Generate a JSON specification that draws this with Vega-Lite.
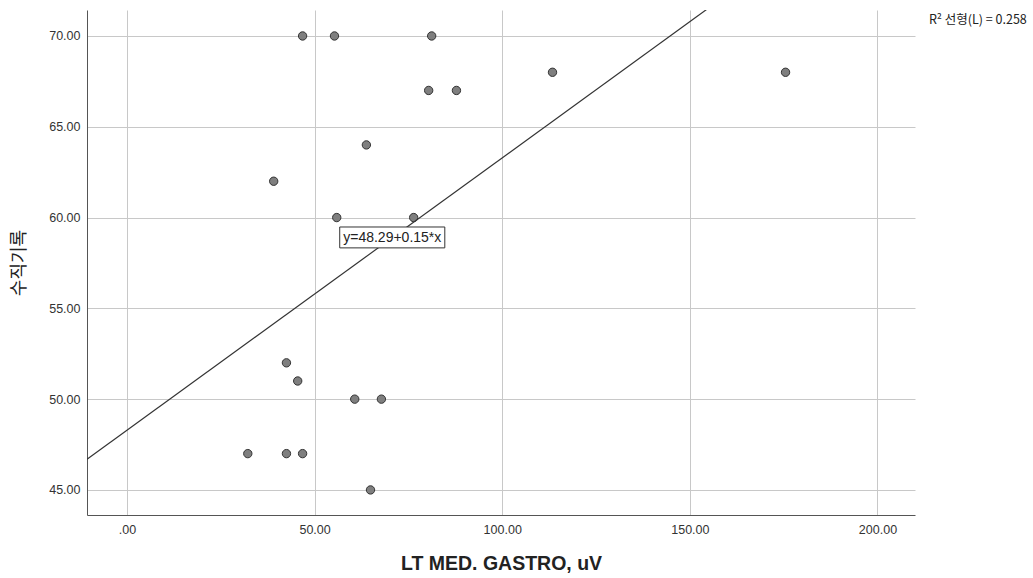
{
  "$schema": "https://vega.github.io/schema/vega-lite/v6.json",
  "width": 828,
  "height": 505,
  "autosize": {"type": "none"},
  "padding": {"left": 87, "top": 10, "right": 118, "bottom": 63},
  "background": "white",
  "config": {"view": {"stroke": null}, "font": "Liberation Sans"},
  "datasets": {
    "pts": [
      {"x": 46.8, "y": 70}, {"x": 55.3, "y": 70}, {"x": 81.2, "y": 70},
      {"x": 113.4, "y": 68}, {"x": 175.5, "y": 68},
      {"x": 80.4, "y": 67}, {"x": 87.8, "y": 67},
      {"x": 63.8, "y": 64}, {"x": 39.1, "y": 62},
      {"x": 55.9, "y": 60}, {"x": 76.4, "y": 60},
      {"x": 42.5, "y": 52}, {"x": 45.5, "y": 51},
      {"x": 60.7, "y": 50}, {"x": 67.8, "y": 50},
      {"x": 32.2, "y": 47}, {"x": 42.5, "y": 47}, {"x": 46.8, "y": 47},
      {"x": 64.9, "y": 45}
    ],
    "fit": [{"x": -10.65, "y": 46.69}, {"x": 210, "y": 79.79}],
    "box": [{"x": 56.7, "x2": 84.7, "y": 59.48, "y2": 58.33, "label": "y=48.29+0.15*x", "xm": 70.7, "ym": 58.9}],
    "r2": [{"x": 213.7, "y": 70.88, "label": "R² 선형(L) = 0.258"}]
  },
  "layer": [
    {
      "data": {"name": "pts"},
      "mark": {"type": "point", "filled": true, "fill": "#7f7f7f", "stroke": "#333333", "strokeWidth": 1, "size": 70, "opacity": 1},
      "encoding": {
        "x": {
          "field": "x", "type": "quantitative",
          "scale": {"domain": [-10.65, 210], "nice": false, "zero": false},
          "axis": {
            "values": [0, 50, 100, 150, 200],
            "labelExpr": "datum.value == 0 ? '.00' : format(datum.value, '.2f')",
            "grid": true, "gridColor": "#c8c8c8", "gridWidth": 1,
            "ticks": false, "domainColor": "#555555", "domainWidth": 1,
            "labelFontSize": 12.5, "labelColor": "#333333", "labelPadding": 8,
            "title": "LT MED. GASTRO, uV", "titleFontSize": 19.5, "titleFontWeight": "bold",
            "titleColor": "#222222", "titlePadding": 19
          }
        },
        "y": {
          "field": "y", "type": "quantitative",
          "scale": {"domain": [43.62, 71.43], "nice": false, "zero": false},
          "axis": {
            "values": [45, 50, 55, 60, 65, 70],
            "format": ".2f",
            "grid": true, "gridColor": "#c8c8c8", "gridWidth": 1,
            "ticks": false, "domainColor": "#555555", "domainWidth": 1,
            "labelFontSize": 12.5, "labelColor": "#333333", "labelPadding": 7,
            "title": "수직기록", "titleFont": "Noto Sans CJK KR", "titleFontSize": 18, "titleFontWeight": "normal",
            "titleColor": "#222222", "titlePadding": 20
          }
        }
      }
    },
    {
      "data": {"name": "fit"},
      "mark": {"type": "line", "color": "#333333", "strokeWidth": 1.2, "clip": true},
      "encoding": {
        "x": {"field": "x", "type": "quantitative"},
        "y": {"field": "y", "type": "quantitative"}
      }
    },
    {
      "data": {"name": "box"},
      "mark": {"type": "rect", "fill": "white", "stroke": "#333333", "strokeWidth": 1},
      "encoding": {
        "x": {"field": "x", "type": "quantitative"},
        "x2": {"field": "x2"},
        "y": {"field": "y", "type": "quantitative"},
        "y2": {"field": "y2"}
      }
    },
    {
      "data": {"name": "box"},
      "mark": {"type": "text", "fontSize": 14, "color": "#222222", "align": "center", "baseline": "middle"},
      "encoding": {
        "x": {"field": "xm", "type": "quantitative"},
        "y": {"field": "ym", "type": "quantitative"},
        "text": {"field": "label"}
      }
    },
    {
      "data": {"name": "r2"},
      "mark": {"type": "text", "fontSize": 12.5, "color": "#222222", "align": "left", "baseline": "middle", "clip": false, "font": "Noto Sans CJK KR"},
      "encoding": {
        "x": {"field": "x", "type": "quantitative"},
        "y": {"field": "y", "type": "quantitative"},
        "text": {"field": "label"}
      }
    }
  ]
}
